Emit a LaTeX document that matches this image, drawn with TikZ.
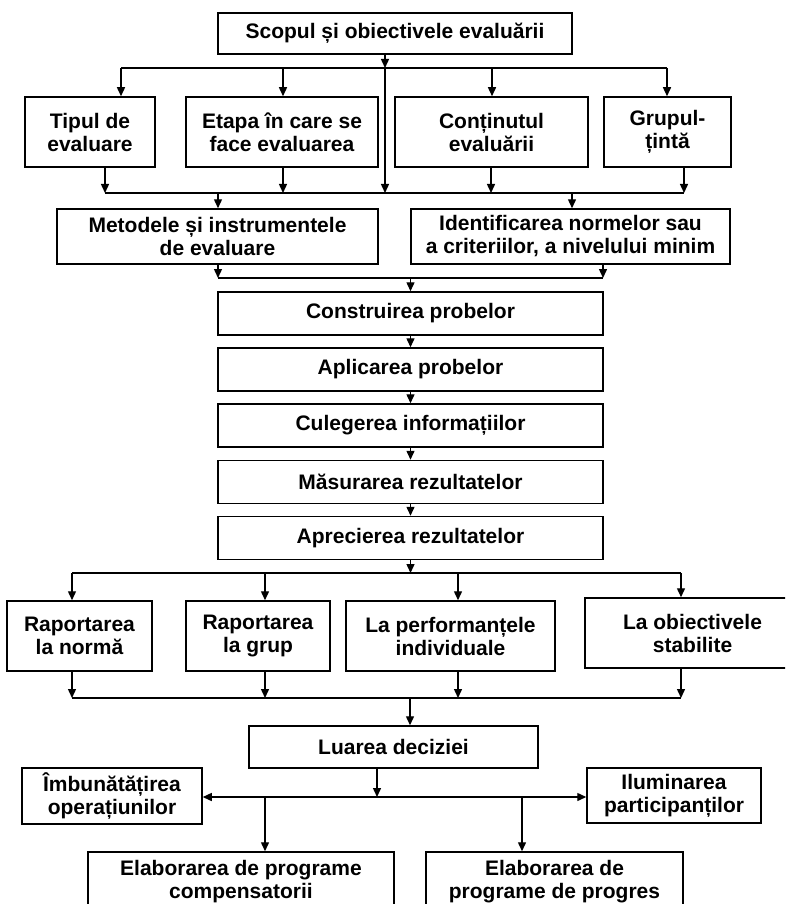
\documentclass[tikz,border=0pt]{standalone}
\usepackage{fontspec}
\setmainfont{Liberation Sans}
\usetikzlibrary{arrows.meta}
\begin{document}
\begin{tikzpicture}[x=1pt,y=-1pt,
  box/.style={draw, line width=1.5pt, inner sep=0pt, align=center,
    font=\bfseries\fontsize{21}{23}\selectfont},
  arr/.style={line width=1.4pt, -{Triangle[length=9pt,width=8pt]}},
  darr/.style={line width=1.4pt, {Triangle[length=9pt,width=8pt]}-{Triangle[length=9pt,width=8pt]}},
  ln/.style={line width=1.4pt}]
\clip (0,0) rectangle (785,904);
\fill[white] (0,0) rectangle (785,904);

% boxes
\node[box, minimum width=354pt, minimum height=41pt] (scop) at (395,33.5) {Scopul și obiectivele evaluării};
\node[box, minimum width=130pt, minimum height=70pt] (tip) at (90,132) {Tipul de\\evaluare};
\node[box, minimum width=192pt, minimum height=70pt] (etapa) at (282,132) {Etapa în care se\\face evaluarea};
\node[box, minimum width=193pt, minimum height=70pt] (cont) at (491.5,132) {Conținutul\\evaluării};
\node[box, minimum width=127pt, minimum height=70pt] (grup) at (667.5,132) {Grupul-\\țintă};
\node[box, minimum width=321pt, minimum height=55pt] (metode) at (217.5,236.5) {Metodele și instrumentele\\de evaluare};
\node[box, minimum width=319pt, minimum height=55pt] (ident) at (570.5,236.5) {Identificarea normelor sau\\a criteriilor, a nivelului minim};
\node[box, minimum width=385pt, minimum height=43pt] (constr) at (410.5,313.5) {Construirea probelor};
\node[box, minimum width=385pt, minimum height=43pt] (aplic) at (410.5,369.5) {Aplicarea probelor};
\node[box, minimum width=385pt, minimum height=43pt] (culeg) at (410.5,425.5) {Culegerea informațiilor};
\node[box, minimum width=385pt, minimum height=43pt] (masur) at (410.5,482) {Măsurarea rezultatelor};
\node[box, minimum width=385pt, minimum height=43pt] (aprec) at (410.5,538) {Aprecierea rezultatelor};
\node[box, minimum width=145pt, minimum height=70pt] (rapn) at (79.5,636) {Raportarea\\la normă};
\node[box, minimum width=144pt, minimum height=70pt] (rapg) at (258,636) {Raportarea\\la grup};
\node[box, minimum width=209pt, minimum height=70pt] (perf) at (450.5,636) {La performanțele\\individuale};
\node[box, minimum width=215pt, minimum height=70pt] (obj) at (692.5,633) {La obiectivele\\stabilite};
\node[box, minimum width=289pt, minimum height=42pt] (luarea) at (393.5,747) {Luarea deciziei};
\node[box, minimum width=180pt, minimum height=56pt] (imbun) at (112,796) {Îmbunătățirea\\operațiunilor};
\node[box, minimum width=174pt, minimum height=55pt] (ilum) at (674,795.5) {Iluminarea\\participanților};
\node[box, minimum width=306pt, minimum height=60pt] (comp) at (241,882) {Elaborarea de programe\\compensatorii};
\node[box, minimum width=257pt, minimum height=60pt] (prog) at (554.5,882) {Elaborarea de\\programe de progres};

% junction coordinates
\coordinate (s1) at (385,68);
\coordinate (s2) at (385,193);
\coordinate (a1) at (121,68);
\coordinate (a2) at (283,68);
\coordinate (a3) at (492,68);
\coordinate (a4) at (667,68);
\coordinate (b1) at (105,193);
\coordinate (b2) at (283,193);
\coordinate (b3) at (491,193);
\coordinate (b4) at (684,193);
\coordinate (c1) at (218,193);
\coordinate (c2) at (572,193);
\coordinate (d1) at (218,278);
\coordinate (d2) at (603,278);
\coordinate (d0) at (410.5,278);
\coordinate (e0) at (410.5,573);
\coordinate (e1) at (72,573);
\coordinate (e2) at (265,573);
\coordinate (e3) at (458,573);
\coordinate (e4) at (681,573);
\coordinate (f0) at (410,698);
\coordinate (f1) at (72,698);
\coordinate (f2) at (265,698);
\coordinate (f3) at (458,698);
\coordinate (f4) at (681,698);
\coordinate (g0) at (377,797);
\coordinate (g1) at (265,797);
\coordinate (g2) at (522,797);

% top split
\draw[arr] (scop.south -| s1) -- (s1);
\draw[ln] (a1) -- (a4);
\draw[arr] (a1) -- (a1 |- tip.north);
\draw[arr] (a2) -- (a2 |- etapa.north);
\draw[arr] (a3) -- (a3 |- cont.north);
\draw[arr] (a4) -- (a4 |- grup.north);
\draw[arr] (s1) -- (s2);

% join below row 2
\draw[arr] (tip.south -| b1) -- (b1);
\draw[arr] (etapa.south -| b2) -- (b2);
\draw[arr] (cont.south -| b3) -- (b3);
\draw[arr] (grup.south -| b4) -- (b4);
\draw[ln] (b1) -- (b4);
\draw[arr] (c1) -- (c1 |- metode.north);
\draw[arr] (c2) -- (c2 |- ident.north);

% join below row 3
\draw[arr] (metode.south -| d1) -- (d1);
\draw[arr] (ident.south -| d2) -- (d2);
\draw[ln] (d1) -- (d2);
\draw[arr] (d0) -- (d0 |- constr.north);

% chain
\draw[arr] (constr.south) -- (aplic.north);
\draw[arr] (aplic.south) -- (culeg.north);
\draw[arr] (culeg.south) -- (masur.north);
\draw[arr] (masur.south) -- (aprec.north);

% split below aprecierea
\draw[arr] (aprec.south) -- (e0);
\draw[ln] (e1) -- (e4);
\draw[arr] (e1) -- (e1 |- rapn.north);
\draw[arr] (e2) -- (e2 |- rapg.north);
\draw[arr] (e3) -- (e3 |- perf.north);
\draw[arr] (e4) -- (e4 |- obj.north);

% join below row 5
\draw[arr] (rapn.south -| f1) -- (f1);
\draw[arr] (rapg.south -| f2) -- (f2);
\draw[arr] (perf.south -| f3) -- (f3);
\draw[arr] (obj.south -| f4) -- (f4);
\draw[ln] (f1) -- (f4);
\draw[arr] (f0) -- (f0 |- luarea.north);

% decision split
\draw[arr] (luarea.south -| g0) -- (g0);
\draw[darr] (imbun.east |- g0) -- (ilum.west |- g0);
\draw[arr] (g1) -- (g1 |- comp.north);
\draw[arr] (g2) -- (g2 |- prog.north);
\end{tikzpicture}
\end{document}
